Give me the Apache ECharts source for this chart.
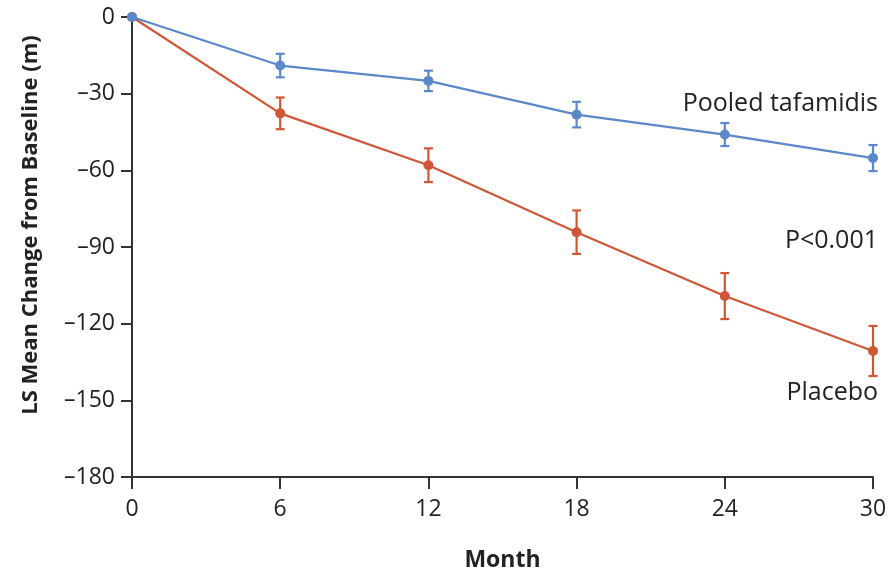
<!DOCTYPE html>
<html>
<head>
<meta charset="utf-8">
<script src="https://cdn.jsdelivr.net/npm/echarts@6/dist/echarts.min.js"></script>
<style>html,body{margin:0;padding:0;background:#fff}#c{width:889px;height:573px}</style>
</head>
<body>
<div id="c"></div>
<script>
var months = [0, 6, 12, 18, 24, 30];
var tafamidis = [0, -19, -25, -38.2, -46, -55.2];
var tafamidisErr = [0, 4.6, 4, 5, 4.5, 5.1];
var placebo = [0, -37.7, -58, -84.2, -109.2, -130.7];
var placeboErr = [0, 6.2, 6.6, 8.5, 9, 9.8];
var yTicks = [0, -30, -60, -90, -120, -150, -180];

var blue = '#5b88c9';
var red = '#cf5737';
var font = '"Open Sans", Lato, sans-serif';

function errData(vals, errs) {
  return months.map(function (m, i) { return [m, vals[i] - errs[i], vals[i] + errs[i]]; });
}
function errSeries(vals, errs, color) {
  return {
    type: 'custom',
    data: errData(vals, errs),
    z: 1,
    renderItem: function (params, api) {
      var lo = api.coord([api.value(0), api.value(1)]);
      var hi = api.coord([api.value(0), api.value(2)]);
      if (Math.abs(lo[1] - hi[1]) < 1) return null;
      var w = 4.5;
      var st = { stroke: color, lineWidth: 2.2 };
      return {
        type: 'group',
        children: [
          { type: 'line', shape: { x1: lo[0], y1: lo[1], x2: hi[0], y2: hi[1] }, style: st },
          { type: 'line', shape: { x1: lo[0] - w, y1: lo[1], x2: lo[0] + w, y2: lo[1] }, style: st },
          { type: 'line', shape: { x1: hi[0] - w, y1: hi[1], x2: hi[0] + w, y2: hi[1] }, style: st }
        ]
      };
    }
  };
}

var chart = echarts.init(document.getElementById('c'), null, { renderer: 'canvas' });
chart.setOption({
  animation: false,
  backgroundColor: '#fff',
  grid: { left: 132, right: 16, top: 17, bottom: 96, containLabel: false, outerBoundsMode: 'none' },
  xAxis: {
    type: 'value', min: 0, max: 30, interval: 6,
    name: 'Month', nameLocation: 'middle', nameGap: 72,
    nameTextStyle: { fontFamily: font, fontSize: 23, fontWeight: 'bold', color: '#222' },
    axisLine: { onZero: false, lineStyle: { color: '#333', width: 2 } },
    axisTick: { length: 12, lineStyle: { color: '#333', width: 2 } },
    axisLabel: { fontFamily: font, fontSize: 23, color: '#222', margin: 21 },
    splitLine: { show: false }
  },
  yAxis: {
    type: 'value', min: -180, max: 0, interval: 30,
    axisLine: { onZero: false, lineStyle: { color: '#333', width: 2 } },
    axisTick: { length: 11, lineStyle: { color: '#333', width: 2 } },
    axisLabel: { fontFamily: font, fontSize: 23, color: '#222', margin: 17,
      formatter: function (v) { return v < 0 ? '\u2013' + Math.abs(v) : String(v); } },
    splitLine: { show: false }
  },
  series: [
    errSeries(tafamidis, tafamidisErr, blue),
    errSeries(placebo, placeboErr, red),
    {
      type: 'line', name: 'Pooled tafamidis',
      data: months.map(function (m, i) { return [m, tafamidis[i]]; }),
      symbol: 'circle', symbolSize: 10, z: 3,
      lineStyle: { color: blue, width: 2.2 }, itemStyle: { color: blue }
    },
    {
      type: 'line', name: 'Placebo',
      data: months.map(function (m, i) { return [m, placebo[i]]; }),
      symbol: 'circle', symbolSize: 10, z: 2,
      lineStyle: { color: red, width: 2.2 }, itemStyle: { color: red }
    }
  ],
  graphic: [
    { type: 'text', x: 31, y: 225, rotation: Math.PI / 2,
      style: { text: 'LS Mean Change from Baseline (m)', font: 'bold 22px ' + font, fill: '#222',
               align: 'center', verticalAlign: 'middle' } },
    { type: 'text', right: 11, top: 91, style: { text: 'Pooled tafamidis', font: '25px ' + font, fill: '#222' } },
    { type: 'text', right: 11, top: 228, style: { text: 'P<0.001', font: '25px ' + font, fill: '#222' } },
    { type: 'text', right: 11, top: 380, style: { text: 'Placebo', font: '25px ' + font, fill: '#222' } }
  ]
});
</script>
</body>
</html>
